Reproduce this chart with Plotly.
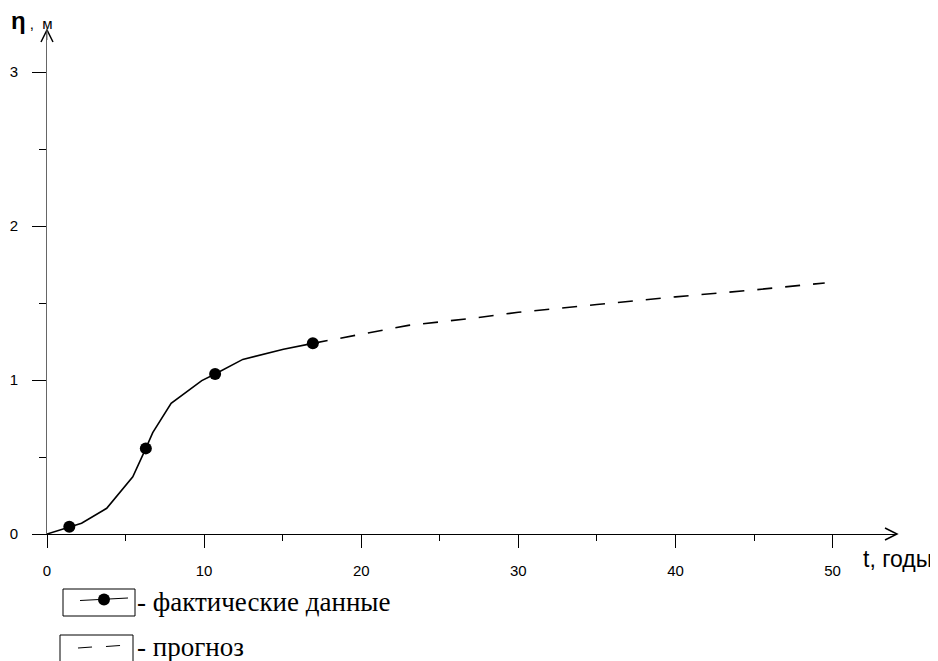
import plotly.graph_objects as go

# ---- data ----
fact_t = [0, 1.42, 2.2, 3.8, 5.46, 6.29, 6.73, 7.9, 9.85, 10.7, 12.46, 15.05, 16.92]
fact_eta = [0, 0.047, 0.07, 0.167, 0.372, 0.556, 0.658, 0.849, 0.996, 1.039, 1.134, 1.2, 1.238]
obs_t = [1.42, 6.29, 10.7, 16.92]
obs_eta = [0.047, 0.556, 1.039, 1.238]
fc_t = [16.92, 20, 23, 27, 30, 35, 40, 45, 49.5]
fc_eta = [1.238, 1.295, 1.355, 1.40, 1.44, 1.49, 1.54, 1.585, 1.63]
x_ticks = [0, 10, 20, 30, 40, 50]
y_ticks = [0, 1, 2, 3]
legend_labels = ["- фактические данные", "- прогноз"]
x_title = "t, годы"
y_title = "<span style='font-size:24px'><b>η</b></span> ,  м"

# the page body has an 8px default margin; compensate so the figure fills the window
OFF = 8
W, H = 938 - OFF, 661 - OFF
ML, MR, MT, MB = 47 - OFF, 41, 32 - OFF, 127
PW, PH = W - ML - MR, H - MT - MB

def px(x):  # screen pixel -> paper x
    return (x - OFF - ML) / PW

def py(y):  # screen pixel -> paper y
    return (H - MB - (y - OFF)) / PH

fig = go.Figure()
fig.add_trace(go.Scatter(x=fact_t, y=fact_eta, mode="lines",
                         line=dict(color="black", width=1.6), showlegend=False))
fig.add_trace(go.Scatter(x=fc_t, y=fc_eta, mode="lines",
                         line=dict(color="black", width=1.6, dash="15px,13px"), showlegend=False))
fig.add_trace(go.Scatter(x=obs_t, y=obs_eta, mode="markers",
                         marker=dict(color="black", size=12), showlegend=False))

tickfont = dict(family="Liberation Sans", size=15, color="black")
fig.update_layout(
    width=W, height=H,
    margin=dict(l=ML, r=MR, t=MT, b=MB),
    paper_bgcolor="white", plot_bgcolor="white",
    xaxis=dict(range=[0, 54.1], tickvals=x_ticks, ticks="outside", ticklen=13,
               tickcolor="black", showline=True, linecolor="black", linewidth=1,
               showgrid=False, zeroline=False, tickfont=tickfont, automargin=False,
               ticklabelstandoff=10,
               minor=dict(dtick=5, tick0=0, ticks="outside", ticklen=6, tickcolor="black", showgrid=False)),
    yaxis=dict(range=[0, 3.26], tickvals=y_ticks, ticks="outside", ticklen=14,
               tickcolor="black", showline=True, linecolor="#666", linewidth=1,
               showgrid=False, zeroline=False, tickfont=tickfont, automargin=False,
               ticklabelstandoff=11,
               minor=dict(dtick=0.5, tick0=0, ticks="outside", ticklen=7, tickcolor="black", showgrid=False)),
)

# axis arrowheads (open chevrons)
shapes = []
ax_x, ax_y = 897, 534
shapes.append(dict(type="path", xref="paper", yref="paper",
                   path=f"M{px(ax_x-12)},{py(ax_y-6)} L{px(ax_x)},{py(ax_y)} L{px(ax_x-12)},{py(ax_y+6)}",
                   line=dict(color="black", width=1.5)))
ay_x, ay_y = 47, 30
shapes.append(dict(type="path", xref="paper", yref="paper",
                   path=f"M{px(ay_x-6)},{py(ay_y+12)} L{px(ay_x)},{py(ay_y)} L{px(ay_x+6)},{py(ay_y+12)}",
                   line=dict(color="black", width=1.5)))
shapes.append(dict(type="line", xref="paper", yref="paper",
                   x0=px(47), x1=px(47), y0=py(40), y1=py(30),
                   line=dict(color="#666", width=1)))
# legend boxes
shapes.append(dict(type="rect", xref="paper", yref="paper",
                   x0=px(63), x1=px(135), y0=py(616), y1=py(589),
                   line=dict(color="black", width=1)))
shapes.append(dict(type="line", xref="paper", yref="paper",
                   x0=px(80), x1=px(128), y0=py(600.5), y1=py(598),
                   line=dict(color="black", width=1.2)))
shapes.append(dict(type="circle", xref="paper", yref="paper",
                   x0=px(98), x1=px(110), y0=py(605.5), y1=py(593.5),
                   fillcolor="black", line=dict(color="black", width=0)))
shapes.append(dict(type="rect", xref="paper", yref="paper",
                   x0=px(60), x1=px(133), y0=py(668), y1=py(635),
                   line=dict(color="black", width=1)))
shapes.append(dict(type="line", xref="paper", yref="paper",
                   x0=px(78), x1=px(92), y0=py(648), y1=py(647),
                   line=dict(color="black", width=1.2)))
shapes.append(dict(type="line", xref="paper", yref="paper",
                   x0=px(106), x1=px(120), y0=py(646.5), y1=py(645.5),
                   line=dict(color="black", width=1.2)))
fig.update_layout(shapes=shapes)

serif = dict(family="Times New Roman, Liberation Serif, DejaVu Serif, serif", size=27, color="black")
ann = [
    dict(text=legend_labels[0], x=px(135), y=py(602), xanchor="left", yanchor="middle", font=serif),
    dict(text=legend_labels[1], x=px(135), y=py(647), xanchor="left", yanchor="middle", font=serif),
    dict(text=x_title, x=px(861), y=py(559), xanchor="left", yanchor="middle",
         font=dict(family="Liberation Sans", size=23, color="black")),
    dict(text=y_title, x=px(9), y=py(20), xanchor="left", yanchor="middle",
         font=dict(family="Liberation Sans", size=15, color="black")),
]
for a in ann:
    a.update(xref="paper", yref="paper", showarrow=False)
fig.update_layout(annotations=ann)

fig.write_html("out.html")
